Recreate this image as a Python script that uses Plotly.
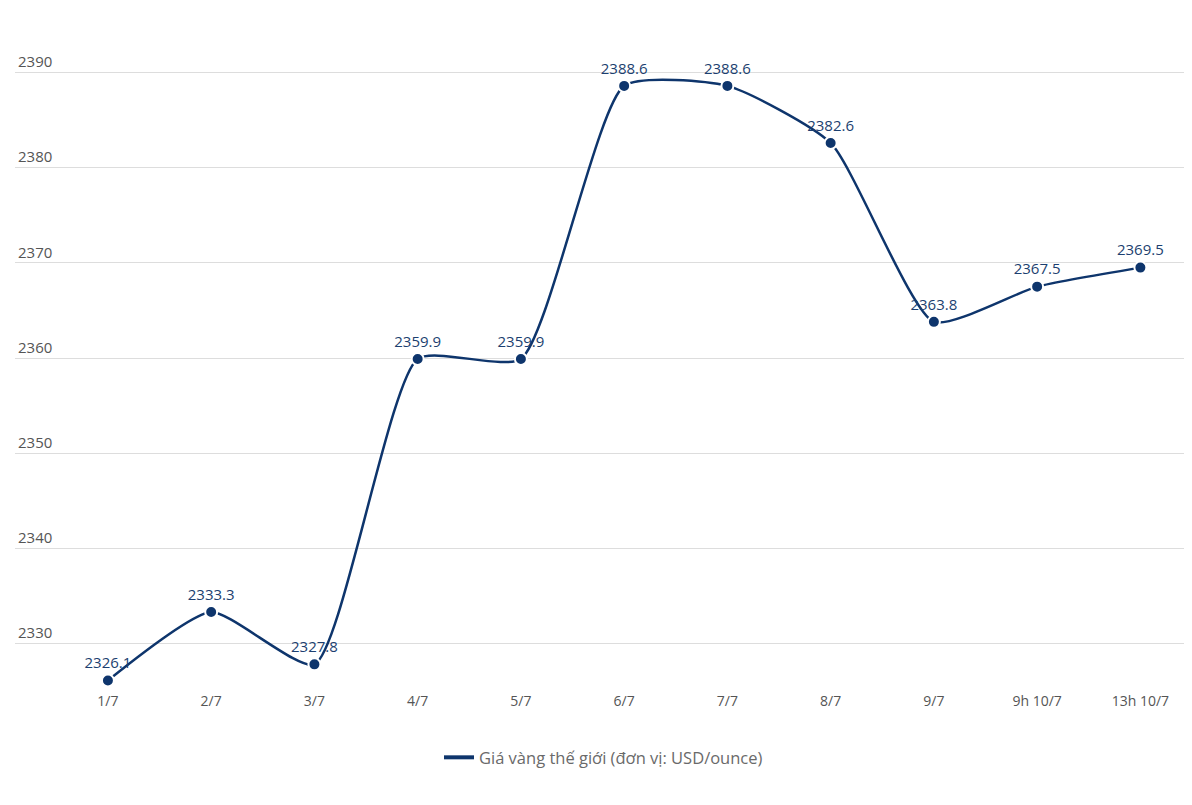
import plotly.graph_objects as go

categories = ["1/7", "2/7", "3/7", "4/7", "5/7", "6/7", "7/7", "8/7", "9/7", "9h 10/7", "13h 10/7"]
prices = [2326.1, 2333.3, 2327.8, 2359.9, 2359.9, 2388.6, 2388.6, 2382.6, 2363.8, 2367.5, 2369.5]
series_name = "Giá vàng thế giới (đơn vị: USD/ounce)"
y_ticks = [2330, 2340, 2350, 2360, 2370, 2380, 2390]

navy = "#0e356c"

fig = go.Figure()
fig.add_trace(go.Scatter(
    x=categories, y=prices, name=series_name, showlegend=False,
    mode="lines+markers+text",
    line=dict(color=navy, width=2.5, shape="spline", smoothing=0.55),
    marker=dict(size=12, color=navy, line=dict(color="white", width=2)),
    text=[f"{v:.1f}" for v in prices],
    textposition="top center",
    textfont=dict(family="Open Sans, sans-serif", size=15, color="#1c3f70"),
    cliponaxis=False,
))
# legend entry (line only)
fig.add_trace(go.Scatter(
    x=[None], y=[None], name=series_name, mode="lines",
    line=dict(color=navy, width=4), showlegend=True,
))

fig.update_layout(
    width=1192, height=805,
    margin=dict(l=7, r=8, t=17, b=122),
    paper_bgcolor="white", plot_bgcolor="white",
    showlegend=True,
    legend=dict(orientation="h", x=0.5, xanchor="center", y=-0.1, yanchor="middle",
                itemwidth=30,
                font=dict(family="Open Sans, sans-serif", size=16.5, color="#6a6a6a")),
    xaxis=dict(type="category", range=[-0.9, 10.5], showgrid=False, zeroline=False,
               showline=False, ticks="",
               tickfont=dict(family="Open Sans, sans-serif", size=14, color="#555555")),
    yaxis=dict(range=[2325, 2395], tickvals=y_ticks, showgrid=True, gridcolor="#dddddd",
               gridwidth=1, zeroline=False, showline=False, ticks="",
               ticklabelposition="inside top",
               tickfont=dict(family="Open Sans, sans-serif", size=15, color="#555555")),
)

fig.write_html("out.html")
